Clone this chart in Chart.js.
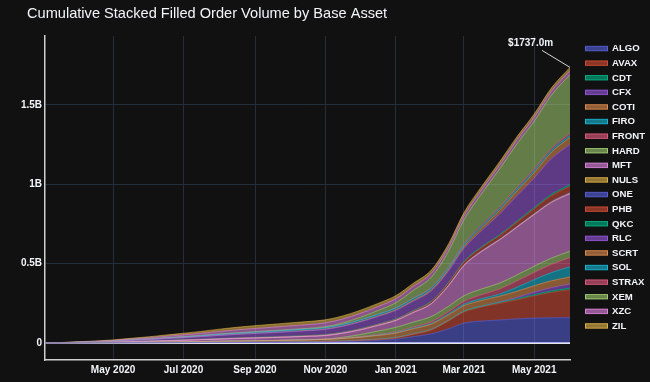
<!DOCTYPE html>
<html><head><meta charset="utf-8">
<script src="https://cdn.jsdelivr.net/npm/chart.js@4.4.1/dist/chart.umd.min.js"></script>
<style>html,body{margin:0;padding:0;background:#111111;}canvas{display:block;}</style>
</head><body>
<canvas id="c" width="650" height="382"></canvas>
<script>
// ---- data (values in $ millions, cumulative) ----
const dates = ["2020-03-03","2020-03-16","2020-04-01","2020-04-16","2020-05-01","2020-05-16","2020-06-01","2020-06-16","2020-07-01","2020-07-16","2020-08-01","2020-08-16","2020-09-01","2020-09-16","2020-10-01","2020-10-16","2020-11-01","2020-11-16","2020-12-01","2020-12-16","2021-01-01","2021-01-16","2021-02-01","2021-02-16","2021-03-01","2021-03-16","2021-04-01","2021-04-16","2021-05-01","2021-05-16","2021-06-01"];
const ALGO  = [0,0.1,0.3,0.5,0.7,1.1,1.4,1.8,2.2,2.7,3.2,3.6,4,4.3,4.7,5.1,6,8,11,16,24,40,58,90,125,138,145,152,157,159,160];
const AVAX  = [0,0,0,0,0,0,0,0,0,0,0,0,0,0,1,2,3,4,5,6,8,15,25,50,70,88,105,120,140,160,176];
const CDT   = [0,0,0.1,0.1,0.2,0.3,0.4,0.5,0.6,0.7,0.8,0.9,1,1.1,1.2,1.3,1.4,1.6,1.9,2.2,2.6,3,3.5,4,5,5.5,6,7,8,9,10];
const CFX   = [0,0,0,0,0,0,0,0,0,0,0,0,0,0,0,0,0,0,0,0,0,0,0,0,0,0,2,8,15,21,25];
const COTI  = [0,0.2,0.6,1,1.6,2.4,3.2,4.1,5,6,7.2,8.1,9,9.8,10.5,11.2,12.2,14.5,18,23,28,31,33,34,35,36,37,39,41,43,45];
const FIRO  = [0,0,0,0,0,0,0,0,0,0,0,0,0,0,0,0,0,0.5,1,2,3,4,5,7,9,11,13,25,38,52,64];
const FRONT = [0,0,0,0,0,0,0,0,0,0,0,0,0,0.5,1,1.5,2,2.5,3,4,5,7,10,14,18,25,32,40,46,52,58];
const HARD  = [0,0,0,0,0,0,0,0,0,0,0,0,0,0,0,0,0,5,13,21,28,31,33,34,35,36,37,38,39,39.5,40];
const MFT   = [0,0.5,1.2,2,3,4.5,6,7.8,9.5,11.3,13.5,15.4,17,18,19,20,22,25,29,35,43,60,80,130,190,235,272,300,325,350,362];
const NULS  = [0,0,0.1,0.1,0.2,0.2,0.3,0.4,0.5,0.6,0.7,0.8,0.9,1,1,1.1,1.2,1.3,1.4,1.5,1.6,1.8,2,2.2,2.4,2.7,3,3.2,3.5,3.8,4];
const ONE   = [0,0,0.1,0.2,0.3,0.4,0.5,0.6,0.7,0.8,0.9,1,1.1,1.2,1.3,1.4,1.5,1.6,1.7,1.8,2,2.2,2.4,2.6,2.8,3,3.2,3.4,3.6,3.8,4];
const PHB   = [0,0,0,0.2,0.3,0.4,0.5,0.6,0.7,0.8,1,1.2,1.4,1.6,1.8,2,2.2,2.5,3,3.5,4,6,9,13,17,19,21,25,30,35,40];
const QKC   = [0,0,0.1,0.2,0.3,0.4,0.5,0.6,0.7,0.8,0.9,1,1.1,1.2,1.3,1.4,1.5,1.7,2,2.3,2.6,3,3.5,4,5,5.5,6,7,8,9,10];
const RLC   = [0,0.7,1.8,2.9,4.4,6.6,8.9,11.5,14,16.6,19.9,22.6,25,27,29,30.5,33,37,42,47,53,58,64,71,80,100,130,160,185,225,253];
const SCRT  = [0,0,0,0,0,0,0,0,0,0,0,0,0,0.3,0.6,1,1.5,2,3,4,5,6.5,8,10,13,18,24,30,36,41,45];
const SOL   = [0,0.2,0.6,0.9,1.4,2.1,2.8,3.7,4.5,5.3,6.4,7.2,8,8.4,8.8,9.1,9.4,9.7,10,10.2,10.5,10.8,11,11.3,11.6,11.9,12.2,12.5,12.7,12.9,13];
const STRAX = [0,0,0,0,0,0,0,0,0,0,0,0,0,0,0,0,0,0.5,1,1.5,2,3,4,5,6,7,8,9,10,11.5,13];
const XEM   = [0,0.1,0.2,0.3,0.5,0.8,1.1,1.4,1.7,2,2.4,2.7,3,3.3,3.7,4.2,5.5,9,15,22,31,48,65,100,150,195,240,275,300,335,369];
const XZC   = [0,0.5,1.4,2.3,3.5,5.3,7.1,9.2,11.2,13.3,15.9,18.1,20,21.5,23,24,24.5,24.8,25,25,25,25,25,25,25,25,25,25,25,25,25];
const ZIL   = [0,0.5,1.3,2.1,3.2,4.8,6.4,8.3,10,12,14.3,16.3,18,18.4,18.7,19,19.2,19.4,19.6,19.8,20,20.1,20.2,20.3,20.4,20.5,20.6,20.7,20.8,20.9,21];

const assetNames = ["ALGO","AVAX","CDT","CFX","COTI","FIRO","FRONT","HARD","MFT","NULS","ONE","PHB","QKC","RLC","SCRT","SOL","STRAX","XEM","XZC","ZIL"];
const seriesValues = [ALGO,AVAX,CDT,CFX,COTI,FIRO,FRONT,HARD,MFT,NULS,ONE,PHB,QKC,RLC,SCRT,SOL,STRAX,XEM,XZC,ZIL];

const xTickDates  = ["2020-05-01","2020-07-01","2020-09-01","2020-11-01","2021-01-01","2021-03-01","2021-05-01"];
const xTickLabels = ["May 2020","Jul 2020","Sep 2020","Nov 2020","Jan 2021","Mar 2021","May 2021"];
const yTickValues = [0,500,1000,1500];
const yTickLabels = ["0","0.5B","1B","1.5B"];
const chartTitle = "Cumulative Stacked Filled Order Volume by Base Asset";

// ---- styling ----
const palette = ["#636efa","#EF553B","#00cc96","#ab63fa","#FFA15A","#19d3f3","#FF6692","#B6E880","#FF97FF","#FECB52"];
const FONT = '"Liberation Sans", Arial, sans-serif';
const TXT = '#f2f5fa';
function rgba(hex, a){const n=parseInt(hex.slice(1),16);return `rgba(${n>>16&255},${n>>8&255},${n&255},${a})`;}
function toDay(s){const [y,m,d]=s.split('-').map(Number);return Date.UTC(y,m-1,d)/86400000;}
const dayNums = dates.map(toDay);

const datasets = seriesValues.map((vals,i)=>({
  label: assetNames[i],
  data: vals.map((v,j)=>({x:dayNums[j], y:v})),
  fill: i===0 ? 'origin' : '-1',
  backgroundColor: rgba(palette[i%10],0.5),
  borderColor: palette[i%10],
  borderWidth: 0.5,
  pointRadius: 0,
  cubicInterpolationMode: 'monotone'
}));

const overlay = {
  id:'overlay',
  afterDraw(chart){
    const ctx = chart.ctx;
    ctx.save();
    // title
    ctx.fillStyle = TXT;
    ctx.font = '14.6px ' + FONT;
    ctx.textBaseline = 'middle';
    ctx.textAlign = 'left';
    ctx.fillText(chartTitle, 27, 14);
    // legend
    ctx.font = 'bold 9.6px ' + FONT;
    assetNames.forEach((n,i)=>{
      const yc = 48.3 + i*14.6;
      const col = palette[i%10];
      ctx.fillStyle = rgba(col,0.55);
      ctx.fillRect(585, yc-2, 23, 4.5);
      ctx.strokeStyle = rgba(col,0.7);
      ctx.lineWidth = 1;
      ctx.strokeRect(585.5, yc-2, 22, 4.5);
      ctx.fillStyle = TXT;
      ctx.fillText(n, 612, yc+0.5);
    });
    // annotation at final total
    const last = dates.length-1;
    const total = seriesValues.reduce((s,a)=>s+a[last],0);
    const px = chart.scales.x.getPixelForValue(dayNums[last]);
    const py = chart.scales.y.getPixelForValue(total);
    ctx.strokeStyle = '#d8d8d8';
    ctx.lineWidth = 1;
    ctx.beginPath(); ctx.moveTo(px-28, py-17); ctx.lineTo(px, py); ctx.stroke();
    ctx.fillStyle = TXT;
    ctx.font = 'bold 10px ' + FONT;
    ctx.textAlign = 'center';
    ctx.fillText('$' + total.toFixed(1) + 'm', px-39.4, py-23.7);
    ctx.restore();
  }
};

new Chart(document.getElementById('c'), {
  type:'line',
  data:{datasets},
  plugins:[overlay],
  options:{
    animation:false, responsive:false, devicePixelRatio:1,
    layout:{padding:{top:36,right:80,left:0,bottom:0}},
    plugins:{legend:{display:false}, tooltip:{enabled:false}, title:{display:false}},
    scales:{
      x:{
        type:'linear', min:dayNums[0], max:dayNums[dayNums.length-1],
        afterBuildTicks:s=>{s.ticks = xTickDates.map(d=>({value:toDay(d)}));},
        afterFit:s=>{s.height = 22;},
        ticks:{autoSkip:false, maxRotation:0, color:TXT, padding:4,
          font:{family:FONT,size:10,weight:'bold'},
          callback:(v,i)=>xTickLabels[i]},
        grid:{color:'#242e3c', lineWidth:1, drawTicks:false},
        border:{display:true, color:'#d0d0d0', width:1.5}
      },
      y:{
        stacked:true, min:-107.1, max:1934.8,
        afterBuildTicks:s=>{s.ticks = yTickValues.map(v=>({value:v}));},
        afterFit:s=>{s.width = 45;},
        ticks:{color:TXT, padding:3, font:{family:FONT,size:10,weight:'bold'},
          callback:(v,i)=>yTickLabels[i]},
        grid:{color:c=>(c.tick && c.tick.value===0)?'#e6e6e6':'#242e3c',
              lineWidth:c=>(c.tick && c.tick.value===0)?2:1, drawTicks:false},
        border:{display:true, color:'#d0d0d0', width:1.5}
      }
    }
  }
});
</script>
</body></html>
